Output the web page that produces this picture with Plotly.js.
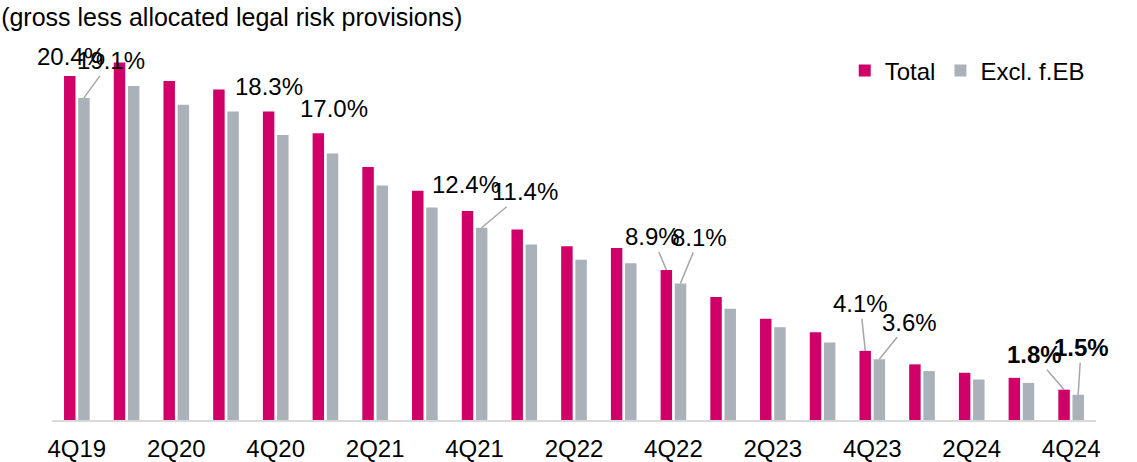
<!DOCTYPE html>
<html>
<head>
<meta charset="utf-8">
<script src="https://cdn.plot.ly/plotly-3.0.1.min.js"></script>
<style>
html,body{margin:0;padding:0;background:#fff;}
#chart{width:1137px;height:462px;}
</style>
</head>
<body>
<div id="chart"></div>
<script>
const categories = ['4Q19','1Q20','2Q20','3Q20','4Q20','1Q21','2Q21','3Q21','4Q21','1Q22','2Q22','3Q22','4Q22','1Q23','2Q23','3Q23','4Q23','1Q24','2Q24','3Q24','4Q24'];
const totalValues = [20.4, 21.2, 20.1, 19.6, 18.3, 17.0, 15.0, 13.6, 12.4, 11.3, 10.3, 10.2, 8.9, 7.3, 6.0, 5.2, 4.1, 3.3, 2.8, 2.5, 1.8];
const exclValues  = [19.1, 19.8, 18.7, 18.3, 16.9, 15.8, 13.9, 12.6, 11.4, 10.4, 9.5, 9.3, 8.1, 6.6, 5.5, 4.6, 3.6, 2.9, 2.4, 2.2, 1.5];
const tickLabels = ['4Q19','2Q20','4Q20','2Q21','4Q21','2Q22','4Q22','2Q23','4Q23','2Q24','4Q24'];
const seriesNames = ['Total', 'Excl. f.EB'];
const subtitle = '(gross less allocated legal risk provisions)';

// labelled bars: [category index, series (0 total / 1 excl)]
const labelledBars = [[0,0],[0,1],[4,0],[5,0],[8,0],[8,1],[12,0],[12,1],[16,0],[16,1],[20,0],[20,1]];
// label placement (pixels) and whether a leader line / bold is used
const labelStyle = [
  {ax:1, ay:-19, line:false},
  {ax:27, ay:-37, line:true},
  {ax:0, ay:-25, line:false},
  {ax:16, ay:-25, line:false},
  {ax:-2, ay:-26, line:false},
  {ax:43, ay:-36, line:true},
  {ax:-14, ay:-33, line:true},
  {ax:19, ay:-46, line:true},
  {ax:-5, ay:-47, line:true},
  {ax:30, ay:-37, line:true},
  {ax:-30, ay:-35, line:true, bold:true},
  {ax:3, ay:-47, line:true, bold:true}
];

const FONT = 'Liberation Sans, Arial, sans-serif';
const magenta = '#CF0067';
const grey = '#AAB1B9';

const traces = [
  {type:'bar', name:seriesNames[0], x:categories, y:totalValues, marker:{color:magenta}, hoverinfo:'skip'},
  {type:'bar', name:seriesNames[1], x:categories, y:exclValues, marker:{color:grey}, hoverinfo:'skip'}
];

const annotations = labelledBars.map((lb, i) => {
  const [ci, s] = lb;
  const v = s === 0 ? totalValues[ci] : exclValues[ci];
  const st = labelStyle[i];
  const txt = v.toFixed(1) + '%';
  return {
    x: categories[ci], y: v, xref:'x', yref:'y',
    xshift: s === 0 ? -7 : 7,
    text: st.bold ? '<b>' + txt + '</b>' : txt,
    showarrow: true, arrowhead: 0, arrowwidth: 1.5,
    arrowcolor: st.line ? '#A6A6A6' : 'rgba(0,0,0,0)',
    ax: st.ax, ay: st.ay, standoff: 0,
    font: {family: FONT, size: 24, color: '#000'}
  };
});

const layout = {
  width:1137, height:462,
  margin:{l:52, r:41, t:20, b:42, pad:0},
  paper_bgcolor:'#fff', plot_bgcolor:'#fff',
  font:{family:FONT, size:24, color:'#000'},
  title:{text:subtitle, x:0.001, xref:'container', xanchor:'left', y:0.963, yref:'container', yanchor:'middle',
         font:{family:FONT, size:25, color:'#000'}},
  barmode:'group', bargap:0.43, bargroupgap:0.19,
  showlegend:true,
  legend:{orientation:'h', x:0.994, xanchor:'right', y:0.8725, yanchor:'middle',
          font:{family:FONT, size:24, color:'#000'}, bgcolor:'rgba(0,0,0,0)', itemwidth:30, traceorder:'normal'},
  xaxis:{type:'category', range:[-0.5, 20.5], autorange:false, automargin:false,
         tickmode:'array', tickvals:tickLabels, ticktext:tickLabels, ticklabelstandoff:6,
         showline:true, linecolor:'#D9D9D9', linewidth:2, ticks:'', showgrid:false, zeroline:false,
         tickfont:{family:FONT, size:24, color:'#000'}, fixedrange:true},
  yaxis:{range:[0, 23.72], autorange:false, visible:false, showgrid:false, zeroline:false, fixedrange:true, automargin:false},
  annotations: annotations
};

Plotly.newPlot('chart', traces, layout, {displayModeBar:false, staticPlot:true});
</script>
</body>
</html>
